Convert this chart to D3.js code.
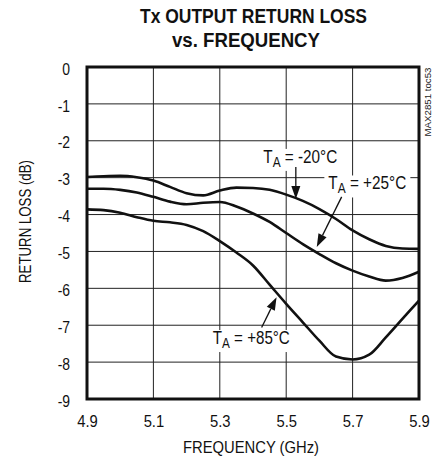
<!DOCTYPE html>
<html>
<head>
<meta charset="utf-8">
<script src="https://cdn.jsdelivr.net/npm/d3@7"></script>
<style>
  body { margin: 0; background: #fff; }
  svg { display: block; font-family: "Liberation Sans", Arial, sans-serif; }
</style>
</head>
<body>
<svg width="438" height="462"></svg>
<script>
// data
var freq = [4.9, 4.95, 5.0, 5.05, 5.1, 5.15, 5.2, 5.25, 5.3, 5.35, 5.4, 5.45, 5.5, 5.55, 5.6, 5.65, 5.7, 5.75, 5.8, 5.85, 5.9];
var lossM20 = [-2.98, -2.96, -2.95, -2.99, -3.08, -3.25, -3.42, -3.48, -3.35, -3.27, -3.28, -3.33, -3.46, -3.63, -3.85, -4.12, -4.43, -4.67, -4.85, -4.92, -4.93];
var lossP25 = [-3.30, -3.30, -3.33, -3.40, -3.52, -3.65, -3.72, -3.68, -3.66, -3.78, -3.97, -4.20, -4.50, -4.80, -5.07, -5.32, -5.52, -5.68, -5.79, -5.72, -5.55];
var lossP85 = [-3.86, -3.88, -3.95, -4.07, -4.17, -4.21, -4.28, -4.45, -4.72, -5.03, -5.38, -5.90, -6.42, -6.92, -7.42, -7.85, -7.93, -7.80, -7.33, -6.83, -6.33];
var xTicks = [4.9, 5.1, 5.3, 5.5, 5.7, 5.9];
var yTicks = [0, -1, -2, -3, -4, -5, -6, -7, -8, -9];

// labels: text start / baseline, arrow tail -> tip (data units)
var labels = [
  { temp: "-20°C", tx: 5.431, ty: -2.60, ax1: 5.529, ay1: -2.71, ax2: 5.529, ay2: -3.58, w: 74 },
  { temp: "+25°C", tx: 5.627, ty: -3.32, ax1: 5.667, ay1: -3.52, ax2: 5.592, ay2: -4.88, w: 78 },
  { temp: "+85°C", tx: 5.279, ty: -7.51, ax1: 5.426, ay1: -7.06, ax2: 5.471, ay2: -6.24, w: 77 }
];

var svg = d3.select("svg");
var margin = { top: 67, right: 19, bottom: 63, left: 87 };
var width = 438 - margin.left - margin.right;
var height = 462 - margin.top - margin.bottom;
var squeeze = 0.87; // narrow look, no condensed font here

var x = d3.scaleLinear().domain([4.9, 5.9]).range([0, width]);
var y = d3.scaleLinear().domain([-9, 0]).range([height, 0]);

// title
svg.append("text").attr("x", 253.5).attr("y", 22.5).attr("text-anchor", "middle")
  .attr("font-weight", "bold").attr("font-size", 20).attr("fill", "#111")
  .attr("textLength", 227).attr("lengthAdjust", "spacingAndGlyphs").text("Tx OUTPUT RETURN LOSS");
svg.append("text").attr("x", 246).attr("y", 46.5).attr("text-anchor", "middle")
  .attr("font-weight", "bold").attr("font-size", 20).attr("fill", "#111")
  .attr("textLength", 148).attr("lengthAdjust", "spacingAndGlyphs").text("vs. FREQUENCY");

var g = svg.append("g").attr("transform", "translate(" + margin.left + "," + margin.top + ")");

// grid
g.selectAll(".vgrid").data(xTicks).enter().append("line")
  .attr("x1", d => x(d)).attr("x2", d => x(d)).attr("y1", 0).attr("y2", height)
  .attr("stroke", "#222").attr("stroke-width", 1);
g.selectAll(".hgrid").data(yTicks).enter().append("line")
  .attr("x1", 0).attr("x2", width).attr("y1", d => y(d)).attr("y2", d => y(d))
  .attr("stroke", "#222").attr("stroke-width", 1);

// axes (labels only)
var xAxis = g.append("g").attr("transform", "translate(0," + height + ")")
  .call(d3.axisBottom(x).tickValues(xTicks).tickFormat(d3.format(".1f")).tickSize(0).tickPadding(0));
var yAxis = g.append("g")
  .call(d3.axisLeft(y).tickValues(yTicks).tickFormat(d => String(d)).tickSize(0).tickPadding(0));
[xAxis, yAxis].forEach(function (a) {
  a.select(".domain").remove();
  a.selectAll("text").attr("fill", "#111")
    .attr("font-family", "'Liberation Sans', Arial, sans-serif");
});
xAxis.selectAll("text").attr("font-size", 17).attr("y", 28.5).attr("dy", null)
  .attr("transform", "scale(" + squeeze + ",1)");
yAxis.selectAll("text").attr("font-size", 16).attr("x", -17 / squeeze).attr("dy", "0.45em")
  .attr("transform", "scale(" + squeeze + ",1)");

// curves
var line = d3.line().x(d => x(d[0])).y(d => y(d[1])).curve(d3.curveMonotoneX);
[lossM20, lossP25, lossP85].forEach(function (vals) {
  g.append("path").datum(freq.map((f, i) => [f, vals[i]]))
    .attr("d", line).attr("fill", "none").attr("stroke", "#111").attr("stroke-width", 2.6);
});

// frame
g.append("rect").attr("x", 0).attr("y", 0).attr("width", width).attr("height", height)
  .attr("fill", "none").attr("stroke", "#111").attr("stroke-width", 3);

// annotations
labels.forEach(function (l) {
  var lg = g.append("g").attr("transform", "translate(" + x(l.tx) + "," + y(l.ty) + ")");
  var t = lg.append("text").attr("x", 0).attr("y", 0)
    .attr("font-size", 18).attr("fill", "#111");
  t.append("tspan").text("T");
  t.append("tspan").attr("font-size", 14).attr("dy", 4).text("A");
  t.append("tspan").attr("dy", -4).text(" = " + l.temp);
  var bb = t.node().getBBox();
  var sx = l.w / bb.width;
  t.attr("transform", "scale(" + sx + ",1)");
  lg.insert("rect", "text")
    .attr("x", -4).attr("y", bb.y + 2).attr("width", l.w + 8).attr("height", bb.height - 1)
    .attr("fill", "#fff");
  // arrow
  var x1 = x(l.ax1), y1 = y(l.ay1), x2 = x(l.ax2), y2 = y(l.ay2);
  var ang = Math.atan2(y2 - y1, x2 - x1), hl = 13, hw = 4.5;
  var bx = x2 - hl * Math.cos(ang), by = y2 - hl * Math.sin(ang);
  g.append("line").attr("x1", x1).attr("y1", y1).attr("x2", bx).attr("y2", by)
    .attr("stroke", "#111").attr("stroke-width", 1.3);
  g.append("path").attr("fill", "#111")
    .attr("d", "M" + x2 + "," + y2 +
      "L" + (bx + hw * Math.sin(ang)) + "," + (by - hw * Math.cos(ang)) +
      "L" + (bx - hw * Math.sin(ang)) + "," + (by + hw * Math.cos(ang)) + "Z");
});

// axis titles
svg.append("text").attr("x", 251).attr("y", 453).attr("text-anchor", "middle")
  .attr("font-size", 17).attr("fill", "#111")
  .attr("textLength", 136).attr("lengthAdjust", "spacingAndGlyphs").text("FREQUENCY (GHz)");
svg.append("text").attr("transform", "translate(31,221.5) rotate(-90)")
  .attr("text-anchor", "middle").attr("font-size", 17).attr("fill", "#111")
  .attr("textLength", 123).attr("lengthAdjust", "spacingAndGlyphs").text("RETURN LOSS (dB)");

// side note
svg.append("text").attr("transform", "translate(431,102) rotate(-90)")
  .attr("text-anchor", "middle").attr("font-size", 9.5).attr("fill", "#222")
  .attr("textLength", 69).attr("lengthAdjust", "spacingAndGlyphs").text("MAX2851 toc53");
</script>
</body>
</html>
